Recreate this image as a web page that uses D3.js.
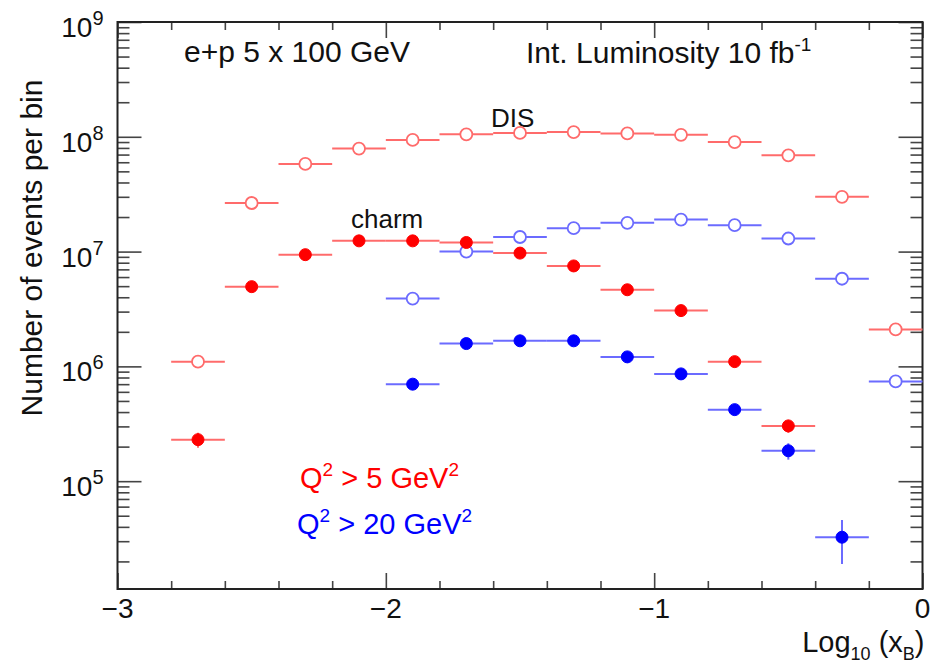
<!DOCTYPE html>
<html>
<head>
<meta charset="utf-8">
<script src="https://cdn.jsdelivr.net/npm/d3@7"></script>
<style>
  body { margin: 0; background: #fff; }
  text { font-family: "Liberation Sans", Arial, sans-serif; fill: #111; }
</style>
</head>
<body>
<div id="chart-area"></div>
<script>
// bins in log10(x_B), width 0.2
let binCenters = [-2.7, -2.5, -2.3, -2.1, -1.9, -1.7, -1.5, -1.3, -1.1, -0.9, -0.7, -0.5, -0.3, -0.1];
let binHalf = 0.1;

// DIS (open markers)
let disQ5  = [1.1e6, 2.65e7, 5.8e7, 7.9e7, 9.4e7, 1.05e8, 1.08e8, 1.1e8, 1.07e8, 1.04e8, 9.0e7, 6.9e7, 3.0e7, 2.1e6];
let disQ20 = [null, null, null, null, 3.9e6, 1.0e7, 1.34e7, 1.6e7, 1.78e7, 1.9e7, 1.7e7, 1.3e7, 5.8e6, 7.4e5];

// charm (filled markers) with vertical errors
let charmQ5     = [2.3e5, 4.95e6, 9.4e6, 1.24e7, 1.24e7, 1.2e7, 9.7e6, 7.5e6, 4.65e6, 3.06e6, 1.1e6, 3.03e5, null, null];
let charmQ5Err  = [3.4e4, 1.5e5, 2.0e5, 2.5e5, 2.5e5, 2.5e5, 2.0e5, 1.5e5, 1.0e5, 8.0e4, 6.0e4, 4.0e4, null, null];
let charmQ20    = [null, null, null, null, 7.0e5, 1.58e6, 1.67e6, 1.67e6, 1.21e6, 8.6e5, 4.2e5, 1.84e5, 3.25e4, null];
let charmQ20Err = [null, null, null, null, 2.5e4, 4.0e4, 4.0e4, 4.0e4, 3.5e4, 3.0e4, 3.0e4, 3.0e4, 1.35e4, null];

let xMajor = [-3, -2, -1, 0];
let yMajorExp = [5, 6, 7, 8, 9];

let margin = {left: 117.5, right: 7.5, top: 22, bottom: 78};
let width = 930 - margin.left - margin.right,
    height = 667 - margin.top - margin.bottom;

let lightRed = "#ff6b6b", lightBlue = "#6b6bff";

let svg = d3.select("#chart-area")
    .append("svg")
    .attr("width", 930)
    .attr("height", 667)
    .append("g")
    .attr("transform", `translate(${margin.left},${margin.top})`);

let x = d3.scaleLinear().domain([-3, 0]).range([0, width]);
let y = d3.scaleLog().domain([1.15e4, 1e9]).range([height, 0]);

// tick values
let xMinor = d3.range(-3, 0.001, 0.2).map(v => +v.toFixed(1)).filter(v => !xMajor.includes(v));
let yMajor = yMajorExp.map(e => Math.pow(10, e));
let yMinor = [];
[4, 5, 6, 7, 8].forEach(e => {
    for (let k = 2; k <= 9; k++) {
        let v = k * Math.pow(10, e);
        if (v >= y.domain()[0]) yMinor.push(v);
    }
});

function tickAxis(gen, vals, size, transform) {
    let g = svg.append("g").attr("transform", transform)
        .call(gen.tickValues(vals).tickSize(size).tickFormat(""));
    g.select(".domain").remove();
    g.selectAll("line").attr("stroke", "#444").attr("stroke-width", 1.6);
}

// inward ticks on all four sides
tickAxis(d3.axisRight(y), yMajor, 24, "translate(0,0)");
tickAxis(d3.axisRight(y), yMinor, 12, "translate(0,0)");
tickAxis(d3.axisLeft(y), yMajor, 24, `translate(${width},0)`);
tickAxis(d3.axisLeft(y), yMinor, 12, `translate(${width},0)`);
tickAxis(d3.axisTop(x), xMajor, 16, `translate(0,${height})`);
tickAxis(d3.axisTop(x), xMinor, 8, `translate(0,${height})`);
tickAxis(d3.axisBottom(x), xMajor, 16, "translate(0,0)");
tickAxis(d3.axisBottom(x), xMinor, 8, "translate(0,0)");

// frame
svg.append("rect")
    .attr("width", width).attr("height", height)
    .attr("fill", "none").attr("stroke", "#222").attr("stroke-width", 2);

// y tick labels 10^n
yMajorExp.forEach(e => {
    let t = svg.append("text")
        .attr("x", -14).attr("y", y(Math.pow(10, e)) + 15)
        .attr("text-anchor", "end")
        .style("font-size", "28px");
    t.append("tspan").text("10");
    t.append("tspan").attr("dy", -12).style("font-size", "20px").text(e);
});

// x tick labels
xMajor.forEach(v => {
    svg.append("text")
        .attr("x", x(v)).attr("y", height + 29)
        .attr("text-anchor", "middle")
        .style("font-size", "28px")
        .text(v === 0 ? "0" : "\u2212" + Math.abs(v));
});

// axis titles
svg.append("text")
    .attr("transform", `translate(${42 - margin.left},${226}) rotate(-90)`)
    .attr("text-anchor", "middle")
    .style("font-size", "30px")
    .text("Number of events per bin");

let xt = svg.append("text")
    .attr("x", width + 2).attr("y", height + 63)
    .attr("text-anchor", "end")
    .style("font-size", "29px");
xt.append("tspan").text("Log");
xt.append("tspan").attr("dy", 8).style("font-size", "18px").text("10");
xt.append("tspan").attr("dy", -8).text(" (x");
xt.append("tspan").attr("dy", 8).style("font-size", "18px").text("B");
xt.append("tspan").attr("dy", -8).text(")");

// annotations
svg.append("text").attr("x", 184 - margin.left).attr("y", 62 - margin.top)
    .style("font-size", "30px").text("e+p 5 x 100 GeV");
let lumi = svg.append("text").attr("x", 526 - margin.left).attr("y", 63 - margin.top)
    .style("font-size", "30px");
lumi.append("tspan").text("Int. Luminosity 10 fb");
lumi.append("tspan").attr("dy", -12).style("font-size", "19px").text("-1");

svg.append("text").attr("x", 491 - margin.left).attr("y", 127 - margin.top)
    .style("font-size", "26px").text("DIS");
svg.append("text").attr("x", 351 - margin.left).attr("y", 228 - margin.top)
    .style("font-size", "26px").text("charm");

function legendText(xp, yp, label, color) {
    let t = svg.append("text").attr("x", xp - margin.left).attr("y", yp - margin.top)
        .style("font-size", "29px").style("fill", color);
    t.append("tspan").text("Q");
    t.append("tspan").attr("dy", -12).style("font-size", "19px").text("2");
    t.append("tspan").attr("dy", 12).text(label);
    t.append("tspan").attr("dy", -12).style("font-size", "19px").text("2");
}
legendText(300, 488, " > 5 GeV", "#ff0000");
legendText(297, 534, " > 20 GeV", "#0000ff");

// series drawing
function drawSeries(vals, errs, lineColor, markerColor, open) {
    let pts = binCenters.map((c, i) => ({c: c, v: vals[i], e: errs ? errs[i] : null}))
        .filter(d => d.v != null);
    let g = svg.append("g");
    g.selectAll(".hbar").data(pts).enter().append("line")
        .attr("x1", d => x(d.c - binHalf)).attr("x2", d => x(d.c + binHalf))
        .attr("y1", d => y(d.v)).attr("y2", d => y(d.v))
        .attr("stroke", lineColor).attr("stroke-width", 2);
    g.selectAll(".vbar").data(pts.filter(d => d.e)).enter().append("line")
        .attr("x1", d => x(d.c)).attr("x2", d => x(d.c))
        .attr("y1", d => y(d.v + d.e)).attr("y2", d => y(d.v - d.e))
        .attr("stroke", lineColor).attr("stroke-width", 2);
    g.selectAll("circle").data(pts).enter().append("circle")
        .attr("cx", d => x(d.c)).attr("cy", d => y(d.v))
        .attr("r", 6)
        .attr("fill", open ? "#fff" : markerColor)
        .attr("stroke", open ? lineColor : markerColor)
        .attr("stroke-width", open ? 1.8 : 1);
}

drawSeries(disQ5, null, lightRed, "#ff0000", true);
drawSeries(disQ20, null, lightBlue, "#0000ff", true);
drawSeries(charmQ5, charmQ5Err, lightRed, "#ff0000", false);
drawSeries(charmQ20, charmQ20Err, lightBlue, "#0000ff", false);
</script>
</body>
</html>
